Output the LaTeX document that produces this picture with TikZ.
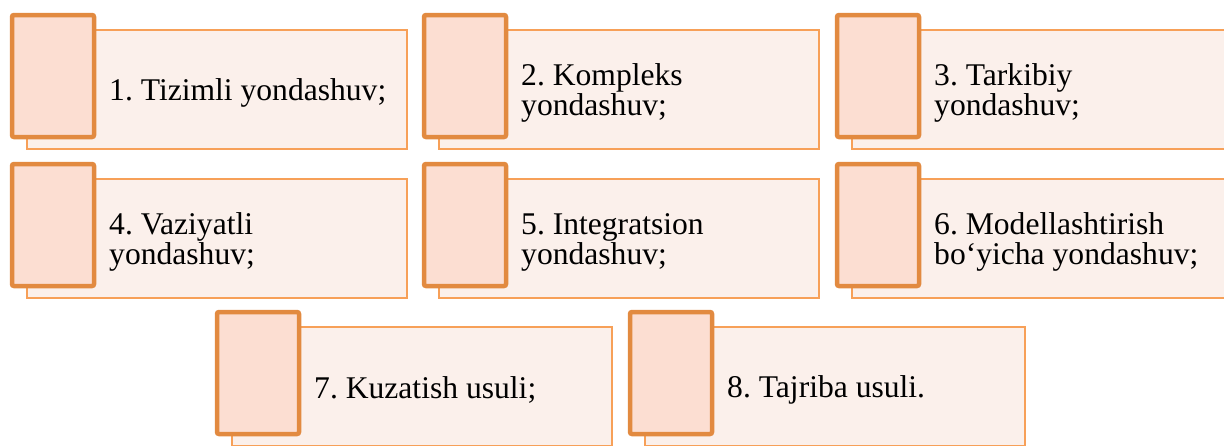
\documentclass[tikz,border=0pt]{standalone}
\usepackage{fontspec}
\setmainfont{Liberation Serif}
\frenchspacing
\definecolor{thickor}{RGB}{226,138,64}
\definecolor{thinor}{RGB}{247,160,88}
\definecolor{smallfill}{RGB}{252,222,210}
\definecolor{bigfill}{RGB}{251,240,235}
\tikzset{
  bigrect/.style={draw=thinor, line width=1.5pt, fill=bigfill, minimum width=380pt, minimum height=119pt, inner sep=0pt, outer sep=0pt},
  smallsq/.style={draw=thickor, line width=4.5pt, fill=smallfill, rounded corners=2pt, minimum width=82pt, minimum height=122pt, inner sep=0pt, outer sep=0pt},
  lbl/.style={anchor=west, align=left, inner sep=0pt, font=\fontsize{31.6}{30}\selectfont\frenchspacing, text=black}
}
\newcommand\mybox[5]{%
  \node[bigrect] (b#1) at (#2+207,#3+76.5) {};
  \node[smallsq] (s#1) at (#2+43,#3+63) {};
  \node[lbl] (t#1) at (#2+99,#3+80) {#4};
}
\begin{document}
\begin{tikzpicture}[x=1pt,y=-1pt]
\useasboundingbox (0,0) rectangle (1224,445);
\clip (0,0) rectangle (1224,445);
\mybox{1}{10}{13}{1. Tizimli yondashuv;}{}
\mybox{2}{422}{13}{2. Kompleks\\yondashuv;}{}
\mybox{3}{835}{13}{3. Tarkibiy\\yondashuv;}{}
\mybox{4}{10}{162}{4. Vaziyatli\\yondashuv;}{}
\mybox{5}{422}{162}{5. Integratsion\\yondashuv;}{}
\mybox{6}{835}{162}{6. Modellashtirish\\bo‘yicha yondashuv;}{}
\mybox{7}{215}{310}{7. Kuzatish usuli;}{}
\mybox{8}{628}{310}{8. Tajriba usuli.}{}
\end{tikzpicture}
\end{document}
